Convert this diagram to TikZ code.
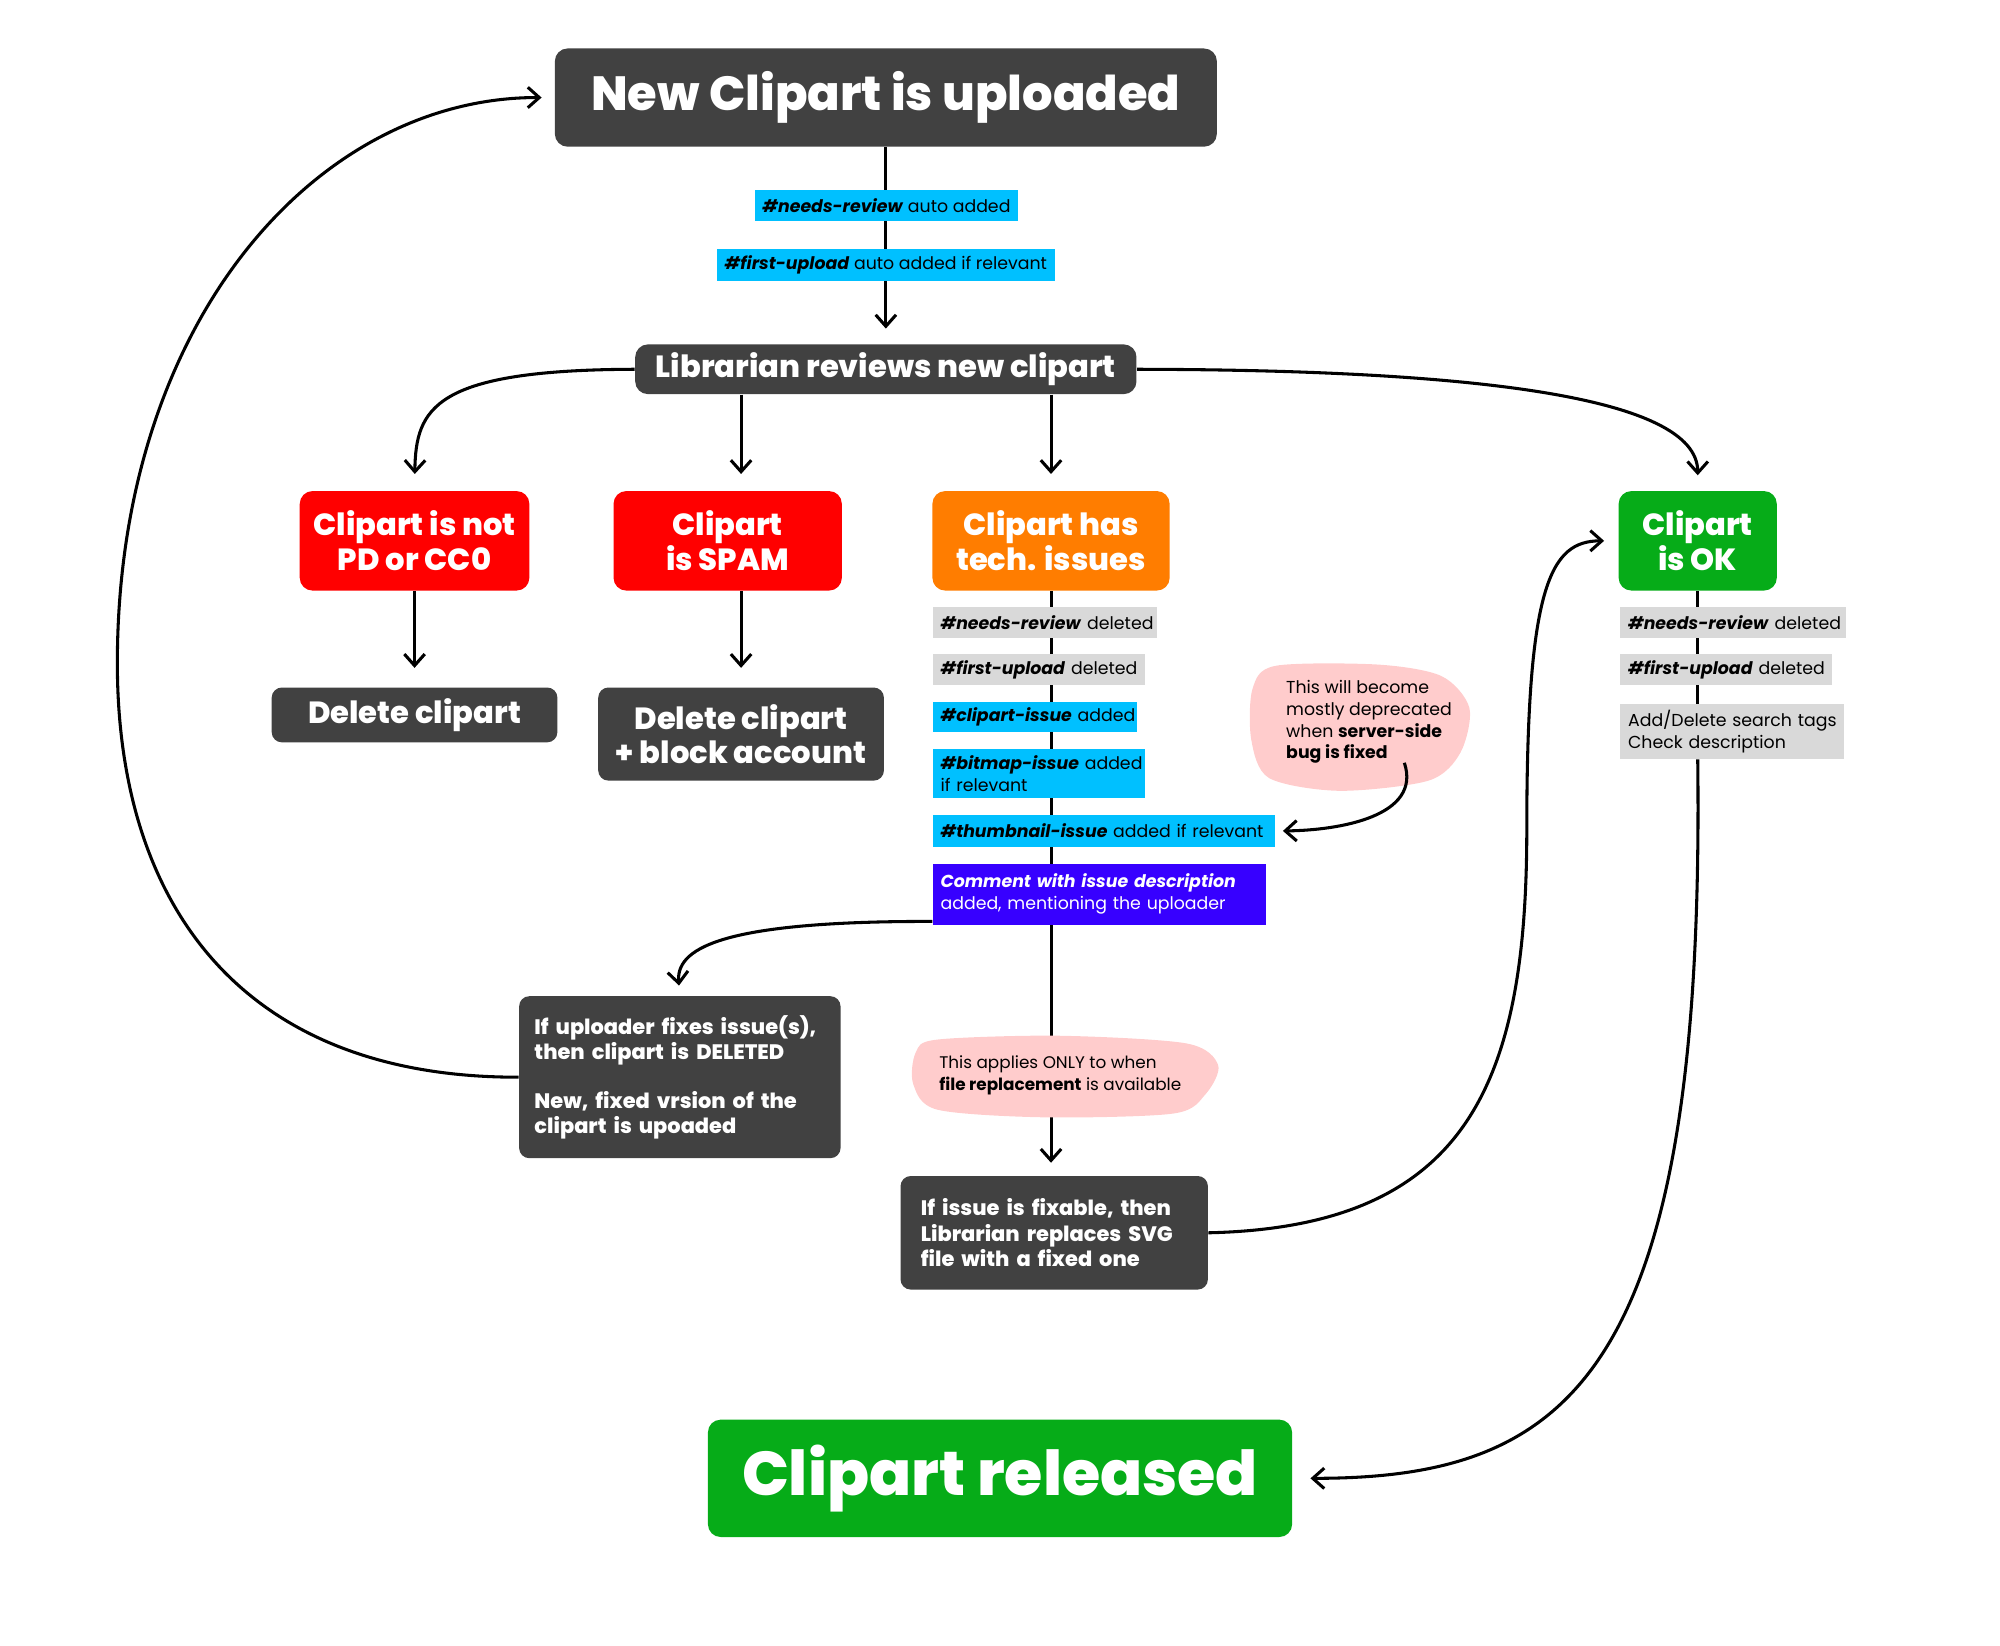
\documentclass[tikz,border=0pt]{standalone}
\usepackage{fontspec}
\setmainfont{Poppins}
\newfontfamily\hv{Poppins ExtraBold}
\usetikzlibrary{arrows.meta,backgrounds,calc}
\definecolor{dk}{RGB}{65,65,65}
\definecolor{cy}{RGB}{0,192,255}
\definecolor{gy}{RGB}{217,217,217}
\definecolor{pu}{RGB}{55,0,255}
\definecolor{rd}{RGB}{255,0,0}
\definecolor{og}{RGB}{255,125,0}
\definecolor{gr}{RGB}{6,172,24}
\definecolor{pk}{RGB}{255,204,204}
\newcommand{\bi}[1]{\textbf{\textit{#1}}}
\begin{document}
\begin{tikzpicture}[x=0.5pt,y=-0.5pt,
 box/.style={rounded corners=5pt, text=white, align=center, inner sep=0pt},
 bigf/.style={font=\hv\fontsize{12}{13.5}\selectfont},
 tag/.style={anchor=west, inner xsep=3pt, inner ysep=0pt, align=left, font=\fontsize{6.8}{8.5}\selectfont, minimum height=12pt},
 note/.style={anchor=west, inner sep=0pt, align=left, font=\fontsize{6.8}{8.5}\selectfont},
 arr/.style={line width=1.2pt, -{Straight Barb[length=4.5pt,width=8pt,line width=1.2pt]}},
 ln/.style={line width=1.2pt},
]
\useasboundingbox (0,0) rectangle (1568,1290);

\node[box, fill=dk, minimum width=259.5pt, minimum height=38.5pt, font=\hv\fontsize{18.8}{22}\selectfont] (top) at (694.5,76.5) {New Clipart is uploaded};
\node[tag, fill=cy, anchor=center, minimum width=102pt] (nr) at (695,161) {\bi{\#needs-review} auto added};
\node[tag, fill=cy, anchor=center, minimum width=132.5pt, minimum height=12.5pt] (fu) at (694.5,207.5) {\bi{\#first-upload} auto added if relevant};
\node[box, fill=dk, minimum width=196.5pt, minimum height=19.5pt, font=\hv\fontsize{12}{14}\selectfont] (lib) at (694.5,289.5) {Librarian reviews new clipart};

\node[box, bigf, fill=rd, minimum width=90pt, minimum height=39pt] (notpd) at (325,424) {Clipart is not\\PD or CC0};
\node[box, bigf, fill=rd, minimum width=89.5pt, minimum height=39pt] (spam) at (570.5,424) {Clipart\\is SPAM};
\node[box, bigf, fill=og, minimum width=93pt, minimum height=39pt] (tech) at (824,424) {Clipart has\\tech. issues};
\node[box, bigf, fill=gr, minimum width=62pt, minimum height=39pt] (ok) at (1331,424) {Clipart\\is OK};

\node[box, bigf, fill=dk, rounded corners=4pt, minimum width=112pt, minimum height=21.5pt] (del1) at (325,560.5) {Delete clipart};
\node[box, bigf, fill=dk, rounded corners=4pt, minimum width=112pt, minimum height=36.5pt] (del2) at (581,575.5) {Delete clipart\\+ block account};

\node[tag, fill=gy, text width=82pt] (t1) at (731,488) {\mbox{\bi{\#needs-review} deleted}};
\node[tag, fill=gy, text width=77pt] (t2) at (731,525) {\mbox{\bi{\#first-upload} deleted}};
\node[tag, fill=cy, text width=74pt] (t3) at (731,562) {\mbox{\bi{\#clipart-issue} added}};
\node[tag, fill=cy, text width=77pt, minimum height=19.5pt] (t4) at (731,606.5) {\mbox{\bi{\#bitmap-issue} added}\\if relevant};
\node[tag, fill=cy, text width=128pt, minimum height=12.5pt] (t5) at (731,651.5) {\mbox{\bi{\#thumbnail-issue} added if relevant}};
\node[tag, fill=pu, text=white, text width=124.5pt, minimum height=24pt] (t6) at (731,701) {\mbox{\bi{Comment with issue description}}\\\mbox{added, mentioning the uploader}};

\node[tag, fill=gy, text width=82.5pt] (o1) at (1270,488) {\mbox{\bi{\#needs-review} deleted}};
\node[tag, fill=gy, text width=77pt] (o2) at (1270,525) {\mbox{\bi{\#first-upload} deleted}};
\node[tag, fill=gy, text width=81.5pt, minimum height=21.5pt] (o3) at (1270,573.5) {\mbox{Add/Delete search tags}\\Check description};

\node[note] (dep) at (1008,566) {This will become\\mostly deprecated\\when \textbf{server-side}\\\textbf{bug is fixed}};
\node[note, font=\fontsize{6.6}{8.5}\selectfont] (app) at (736,843) {This applies ONLY to when\\\textbf{file replacement} is available};

\node[box, fill=dk, rounded corners=4pt, minimum width=126pt, minimum height=63.5pt, text width=114pt, align=left, font=\hv\fontsize{8.2}{10}\selectfont] (upl) at (533,844.5) {If uploader fixes issue(s),\\then clipart is DELETED\\[9pt]New, fixed vrsion of the\\clipart is upoaded};
\node[box, fill=dk, rounded corners=4pt, minimum width=120.5pt, minimum height=44.5pt, text width=104.5pt, align=left, font=\hv\fontsize{8.2}{10}\selectfont] (fix) at (826.5,966.5) {If issue is fixable, then\\Librarian replaces SVG\\file with a fixed one};
\node[box, fill=gr, rounded corners=5pt, minimum width=229pt, minimum height=46pt, font=\hv\fontsize{24.3}{28}\selectfont] (rel) at (784,1159) {Clipart released};

\begin{scope}[on background layer]
\draw[arr, shorten >=6pt] (top.south) -- (lib.north);
\draw[arr, shorten >=6.5pt] (lib.west) .. controls (340,290) and (326,320) .. (notpd.north);
\draw[arr, shorten >=6.5pt] (lib.south -| del2) -- (spam.north -| del2);
\draw[arr, shorten >=6.5pt] (lib.south -| tech) -- (tech.north);
\draw[arr, shorten >=6pt] (lib.east) .. controls (1150,290) and (1331,310) .. (ok.north);
\draw[arr, shorten >=7.5pt] (notpd.south) -- (del1.north);
\draw[arr, shorten >=7.5pt] (spam.south -| del2) -- (del2.north);
\draw[ln] (tech.south) -- (tech.south |- app.north);
\draw[arr, shorten >=5pt] (tech.south |- app.south) -- (tech.south |- fix.north);
\draw[arr, shorten >=4pt] ([yshift=1.5pt]t6.south west) .. controls (560,722) and (530,745) .. (upl.north);
\draw[arr, shorten >=5pt] (upl.west) .. controls (190,845) and (92,710) .. (92,520) .. controls (92,250) and (250,76) .. (top.west);
\draw[arr, shorten >=5.5pt] (fix.east) .. controls (1150,962) and (1197,850) .. (1197,650) .. controls (1197,460) and (1215,424) .. (ok.west);
\draw[ln] (ok.south) -- (ok.south |- o3.south);
\draw[arr, shorten >=7pt] (ok.south |- o3.south) .. controls (1337,1080) and (1230,1159) .. (rel.east);
\end{scope}
\begin{scope}[on background layer]
\fill[pk] plot[smooth cycle] coordinates {(1000,522) (1080,521) (1130,530) (1152,555) (1145,590) (1120,612) (1050,620) (995,610) (981,580) (982,540)};
\fill[pk] plot[smooth cycle] coordinates {(735,815) (830,812) (930,818) (955,835) (945,858) (920,873) (820,876) (735,870) (716,850) (718,825)};
\end{scope}
\coordinate (depstart) at (1101,598);
\draw[arr, shorten >=3pt] (depstart) .. controls (1115,640) and (1050,651) .. (t5.east);
\end{tikzpicture}
\end{document}
